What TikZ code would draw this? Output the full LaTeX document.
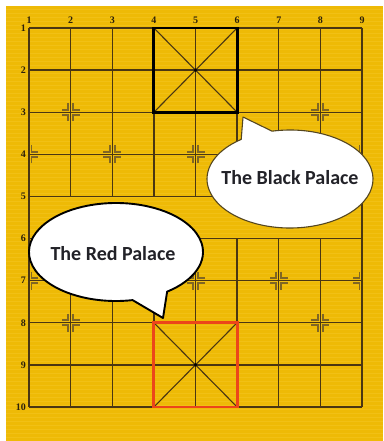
\documentclass[tikz,border=0pt]{standalone}
\usepackage{fontspec}
\newfontfamily\bubblefont{Carlito}
\newfontfamily\labelfont{Liberation Serif}
\usetikzlibrary{calc}
\definecolor{boardyellow}{RGB}{238,186,6}
\definecolor{stripecol}{RGB}{250,208,56}
\definecolor{gridbrown}{RGB}{74,54,18}
\definecolor{markolive}{RGB}{128,102,36}
\definecolor{palacered}{RGB}{236,70,26}
\definecolor{textgray}{RGB}{34,34,40}
\definecolor{bubbleedge}{RGB}{85,70,30}
\newcommand\mkquad[3]{\draw[markstroke] ($(#1)+(#2*2.5,#3*9)$) -- ($(#1)+(#2*2.5,#3*2.5)$) -- ($(#1)+(#2*9,#3*2.5)$);}
\newcommand\mkfull[1]{\mkquad{#1}{1}{1}\mkquad{#1}{1}{-1}\mkquad{#1}{-1}{1}\mkquad{#1}{-1}{-1}}
\newcommand\mkright[1]{\mkquad{#1}{1}{1}\mkquad{#1}{1}{-1}}
\newcommand\mkleft[1]{\mkquad{#1}{-1}{1}\mkquad{#1}{-1}{-1}}
\begin{document}
\begin{tikzpicture}[x=1pt,y=-1pt,
  gridline/.style={gridbrown, line width=1.4pt},
  diagline/.style={gridbrown, line width=1.1pt},
  blackpalace/.style={black, line width=2.8pt},
  redpalace/.style={palacered, line width=2.8pt},
  markstroke/.style={markolive, line width=1.9pt},
  lbl/.style={inner sep=0pt, text=gridbrown!60!black, font=\labelfont\bfseries\fontsize{10}{11}\selectfont},
  bubbletext/.style={inner sep=0pt, text=textgray, font=\bubblefont\bfseries\fontsize{20}{24}\selectfont},
  redbubble/.style={fill=white, draw=black, line width=1.9pt, line join=round},
  blackbubble/.style={fill=white, draw=bubbleedge, line width=1.1pt, line join=round}]
\useasboundingbox (0,0) rectangle (383,441);
\fill[white] (0,0) rectangle (383,441);
\fill[boardyellow] (6,6) rectangle (383,441);
\foreach \k in {0,...,107} \draw[stripecol, line width=0.8pt, opacity=0.3] (6,{9+\k*4}) -- (383,{9+\k*4});
% intersections
\foreach \i in {1,...,9}
  \foreach \j in {1,...,10}
    \coordinate (p\i-\j) at ({29+(\i-1)*41.625},{28+(\j-1)*42.111});
% markers
\mkfull{p2-3}\mkfull{p8-3}\mkfull{p2-8}\mkfull{p8-8}
\mkright{p1-4}\mkfull{p3-4}\mkfull{p5-4}\mkfull{p7-4}\mkleft{p9-4}
\mkright{p1-7}\mkfull{p3-7}\mkfull{p5-7}\mkfull{p7-7}\mkleft{p9-7}
% grid
\foreach \j in {1,...,10} \draw[gridline] (p1-\j) -- (p9-\j);
\draw[gridline] (p1-1) -- (p1-10);
\draw[gridline] (p9-1) -- (p9-10);
\foreach \i in {2,...,8} {
  \draw[gridline] (p\i-1) -- (p\i-5);
  \draw[gridline] (p\i-6) -- (p\i-10);
}
% palaces
\draw[diagline] (p4-1) -- (p6-3) (p6-1) -- (p4-3);
\draw[diagline] (p4-8) -- (p6-10) (p6-8) -- (p4-10);
\draw[blackpalace] (p4-1) rectangle (p6-3);
\draw[redpalace] (p4-8) rectangle (p6-10);
\fill[black] (p5-2) circle[radius=1.8pt];
\fill[black] (p5-9) circle[radius=1.8pt];
% labels
\foreach \i in {1,...,9} \node[lbl, anchor=base] (col\i) at ($(p\i-1)+(0,-4)$) {\i};
\foreach \j in {1,...,10} \node[lbl, anchor=east] (row\j) at ($(p1-\j)+(-3,0)$) {\j};
% black palace bubble
\coordinate (bc) at (290,179);
\coordinate (btip) at (243,117);
\draw[blackbubble] (btip) -- ($(bc)+(-257.5:83pt and 49pt)$)
  arc[start angle=-257.5, end angle=-594, x radius=83pt, y radius=49pt] -- cycle;
\node[bubbletext] (blacktext) at (290,178) {The Black Palace};
% red palace bubble
\coordinate (rc) at (116,252);
\coordinate (rtip) at (163,318);
\draw[redbubble] (rtip) -- ($(rc)+(-79:87pt and 49pt)$)
  arc[start angle=-79, end angle=-414, x radius=87pt, y radius=49pt] -- cycle;
\node[bubbletext] (redtext) at (113,254) {The Red Palace};
\end{tikzpicture}
\end{document}
